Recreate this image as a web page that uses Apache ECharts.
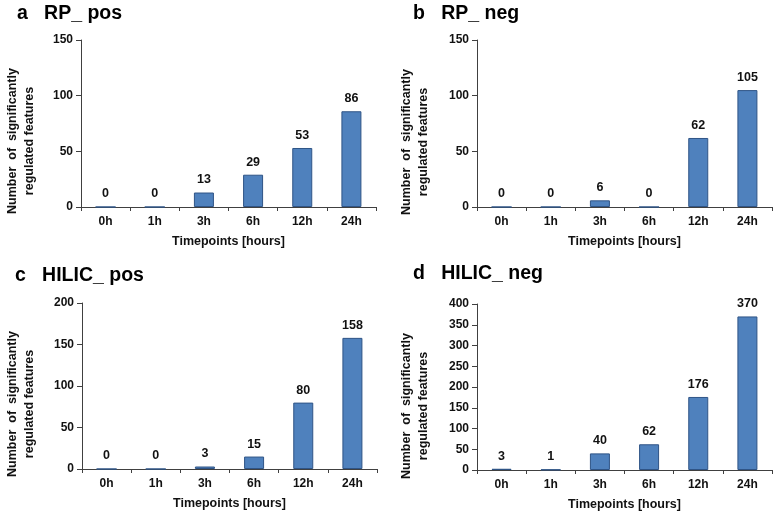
<!DOCTYPE html>
<html>
<head>
<meta charset="utf-8">
<script src="https://cdn.jsdelivr.net/npm/echarts@6/dist/echarts.min.js"></script>
<style>
html,body{margin:0;padding:0;background:#fff;}
#main{width:778px;height:512px;}
</style>
</head>
<body>
<div id="main"></div>
<script>
const categories = ['0h', '1h', '3h', '6h', '12h', '24h'];
const rpPos = [0, 0, 13, 29, 53, 86];
const rpNeg = [0, 0, 6, 0, 62, 105];
const hilicPos = [0, 0, 3, 15, 80, 158];
const hilicNeg = [3, 1, 40, 62, 176, 370];
const panelTitles = ['a   RP_ pos', 'b   RP_ neg', 'c   HILIC_ pos', 'd   HILIC_ neg'];
const yMax = [150, 150, 200, 400];
const yInterval = [50, 50, 50, 50];
const seriesData = [rpPos, rpNeg, hilicPos, hilicNeg];
const xName = 'Timepoints [hours]';
const yName = 'Number  of  significantly\nregulated features';

const FONT = '"Liberation Sans", Arial, sans-serif';
const grids = [
  {left: 81, top: 40, width: 295, height: 167},
  {left: 477, top: 40, width: 295, height: 167},
  {left: 82, top: 303, width: 295, height: 166},
  {left: 477, top: 304, width: 295, height: 166}
];
const titlePos = [[17, 4], [413, 4], [15, 266], [413, 264]];
const yNamePos = [[21, 141], [415, 142], [21, 404], [415, 406]];

const chart = echarts.init(document.getElementById('main'), null, {renderer: 'canvas'});
const axisColor = '#404040';

const option = {
  backgroundColor: '#ffffff',
  animation: false,
  title: panelTitles.map((t, i) => ({
    text: t, left: titlePos[i][0], top: titlePos[i][1], padding: 0,
    textStyle: {fontFamily: FONT, fontWeight: 'bold', fontSize: 19.5, color: '#000'}
  })),
  grid: grids,
  xAxis: grids.map((g, i) => ({
    type: 'category', gridIndex: i, data: categories,
    name: xName, nameLocation: 'middle', nameGap: 28,
    nameTextStyle: {fontFamily: FONT, fontWeight: 'bold', fontSize: 12.5, color: '#111'},
    axisLine: {lineStyle: {color: axisColor, width: 1}},
    axisTick: {show: true, alignWithLabel: false, length: 4, lineStyle: {color: axisColor}},
    axisLabel: {fontFamily: FONT, fontWeight: 'bold', fontSize: 12, color: '#111', margin: 9},
    splitLine: {show: false}
  })),
  yAxis: grids.map((g, i) => ({
    type: 'value', gridIndex: i, min: 0, max: yMax[i], interval: yInterval[i],
    axisLine: {show: true, lineStyle: {color: axisColor, width: 1}},
    axisTick: {show: true, length: 5, lineStyle: {color: axisColor}},
    axisLabel: {fontFamily: FONT, fontWeight: 'bold', fontSize: 12, color: '#111', margin: 8},
    splitLine: {show: false}
  })),
  graphic: yNamePos.map(p => ({
    type: 'text', x: p[0], y: p[1], rotation: Math.PI / 2,
    style: {text: yName, align: 'center', verticalAlign: 'middle', lineHeight: 17,
      font: 'bold 12.5px ' + FONT, fill: '#111'}
  })),
  series: seriesData.map((d, i) => ({
    type: 'bar', xAxisIndex: i, yAxisIndex: i, data: d, barWidth: 20,
    itemStyle: {color: '#4F81BD', borderColor: '#2F5486', borderWidth: 1},
    label: {show: true, position: 'top', distance: 6, fontFamily: FONT, fontWeight: 'bold', fontSize: 12.5, color: '#111'}
  }))
};
chart.setOption(option);
</script>
</body>
</html>
